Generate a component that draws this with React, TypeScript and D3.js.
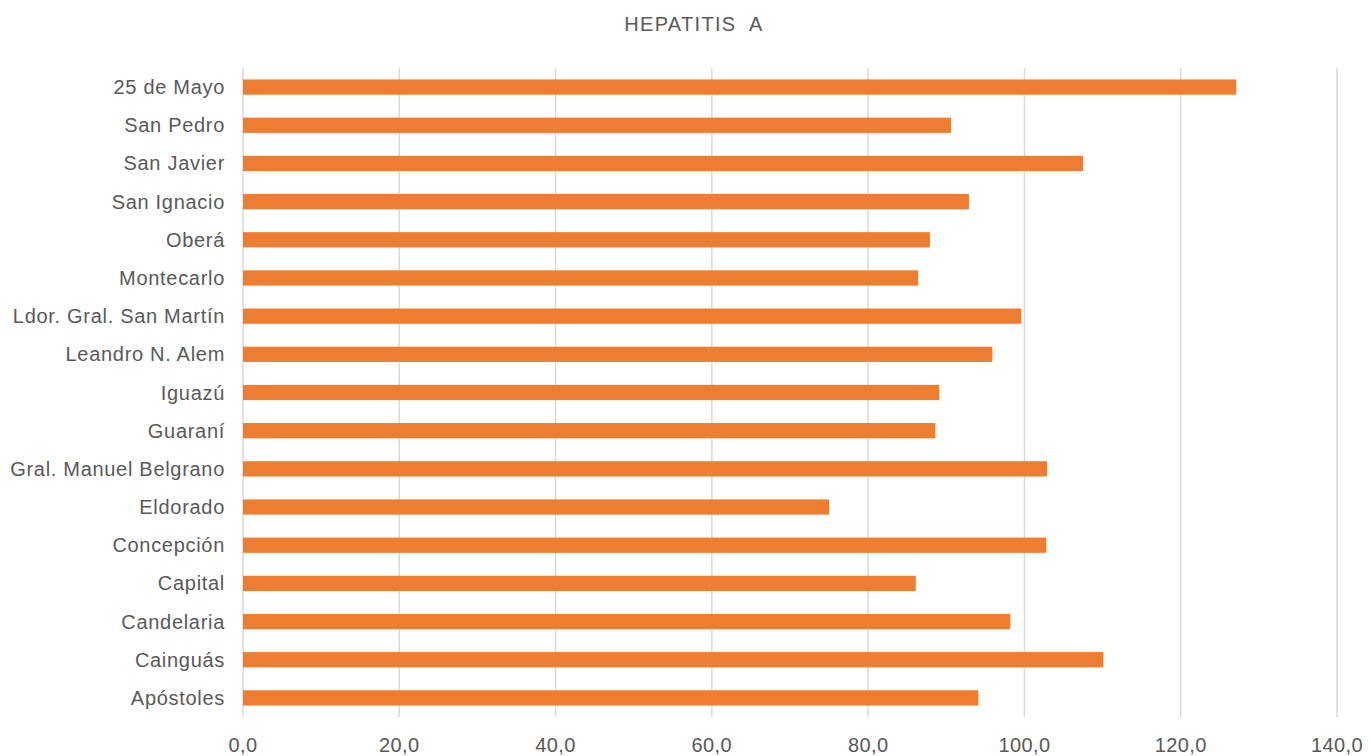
import React from "react";
import * as d3 from "d3";

const categories = [
  "25 de Mayo", "San Pedro", "San Javier", "San Ignacio", "Oberá", "Montecarlo",
  "Ldor. Gral. San Martín", "Leandro N. Alem", "Iguazú", "Guaraní",
  "Gral. Manuel Belgrano", "Eldorado", "Concepción", "Capital", "Candelaria",
  "Cainguás", "Apóstoles",
];
const values = [127.1, 90.6, 107.5, 92.9, 87.9, 86.4, 99.6, 95.9, 89.1, 88.6, 102.9, 75.0, 102.8, 86.1, 98.2, 110.1, 94.1];
const ticks = [0, 20, 40, 60, 80, 100, 120, 140];
const title = "HEPATITIS  A";

export default function App() {
  const W = 1370, H = 756;
  const x = d3.scaleLinear().domain([0, 140]).range([243, 1337]);
  const y = d3.scaleBand<string>().domain(categories).range([68, 717]).paddingInner(0.6).paddingOuter(0.3);
  const font = "'Liberation Sans', Arial, Helvetica, sans-serif";
  const fmt = (v: number) => v.toFixed(1).replace(".", ",");
  return (
    <svg width={W} height={H} style={{ position: "absolute", left: 0, top: 0 }} fontFamily={font}>
      <rect width={W} height={H} fill="#fff" />
      <text x={694} y={31} textAnchor="middle" fontSize={20} letterSpacing={1.3} fill="#595959" style={{ whiteSpace: "pre" }}>{title}</text>
      {ticks.map((t) => (
        <g key={t}>
          <line x1={x(t)} x2={x(t)} y1={68} y2={717} stroke="#d9d9d9" strokeWidth={1.5} />
          <text x={x(t)} y={752} textAnchor="middle" fontSize={20} letterSpacing={0.4} fill="#595959">{fmt(t)}</text>
        </g>
      ))}
      {categories.map((c, i) => (
        <g key={c}>
          <rect x={x(0)} y={y(c)} width={x(values[i]) - x(0)} height={y.bandwidth()} fill="#ED7D31" />
          <text x={225} y={(y(c) as number) + y.bandwidth() / 2} dy="0.35em" textAnchor="end" fontSize={20} letterSpacing={0.7} fill="#595959">{c}</text>
        </g>
      ))}
    </svg>
  );
}
